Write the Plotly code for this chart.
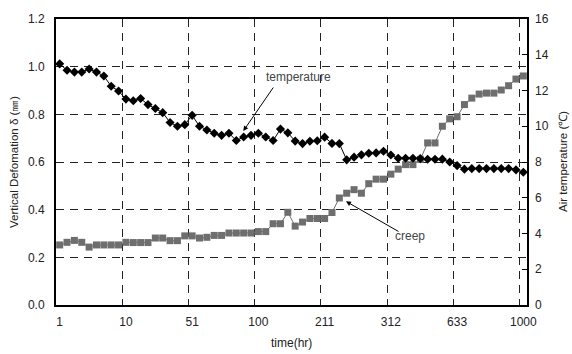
import plotly.graph_objects as go

# sample index (categories) and tick labels (time in hours)
sample_no = list(range(1, 65))
tick_positions = [1, 10, 19, 28, 37, 46, 55, 64]
tick_labels = ["1", "10", "51", "100", "211", "312", "633", "1000"]

# creep (vertical deformation, mm) - left axis
creep_mm = [0.252, 0.263, 0.271, 0.263, 0.243, 0.252, 0.252, 0.252, 0.252, 0.263,
            0.262, 0.262, 0.262, 0.281, 0.281, 0.270, 0.270, 0.290, 0.290, 0.281,
            0.284, 0.292, 0.292, 0.302, 0.302, 0.302, 0.302, 0.308, 0.308, 0.341,
            0.341, 0.389, 0.331, 0.348, 0.363, 0.363, 0.363, 0.388, 0.449, 0.469,
            0.484, 0.469, 0.509, 0.528, 0.528, 0.549, 0.570, 0.589, 0.589, 0.611,
            0.680, 0.680, 0.750, 0.781, 0.790, 0.841, 0.868, 0.885, 0.889, 0.889,
            0.902, 0.920, 0.948, 0.961]

# air temperature (deg C) - right axis
air_temp_c = [13.49, 13.13, 13.03, 13.03, 13.20, 13.03, 12.81, 12.24, 11.97, 11.52,
              11.43, 11.55, 11.21, 10.99, 10.76, 10.21, 10.00, 10.09, 10.61, 10.00,
              9.79, 9.61, 9.49, 9.61, 9.20, 9.40, 9.49, 9.61, 9.40, 9.20,
              9.84, 9.63, 9.17, 9.03, 9.16, 9.19, 9.39, 9.04, 9.03, 8.12,
              8.27, 8.40, 8.49, 8.51, 8.60, 8.39, 8.21, 8.21, 8.21, 8.19,
              8.15, 8.15, 8.16, 8.00, 7.80, 7.60, 7.63, 7.63, 7.63, 7.63,
              7.63, 7.63, 7.56, 7.43]

FONT = "Liberation Sans, Arial, sans-serif"
grid_bounds = [p - 0.5 for p in tick_positions[1:]]

fig = go.Figure()
fig.add_trace(go.Scatter(
    x=sample_no, y=creep_mm, mode="lines+markers", name="creep",
    line=dict(color="#6e6e6e", width=1),
    marker=dict(symbol="square", size=7, color="#6e6e6e"),
    yaxis="y"))
fig.add_trace(go.Scatter(
    x=sample_no, y=air_temp_c, mode="lines+markers", name="temperature",
    line=dict(color="black", width=1),
    marker=dict(symbol="diamond", size=7, color="black"),
    yaxis="y2"))

fig.update_layout(
    width=572, height=354,
    margin=dict(l=56, r=45, t=14, b=49),
    paper_bgcolor="white", plot_bgcolor="white",
    showlegend=False,
    font=dict(family=FONT, size=12, color="#222"),
    xaxis=dict(
        range=[0.5, 64.5], tickmode="array", tickvals=tick_positions,
        ticktext=tick_labels, showgrid=False, zeroline=False,
        showline=True, linecolor="black", linewidth=2, mirror=True,
        ticks="", ticklabelstandoff=5, tickfont=dict(size=12, color="#222"),
        minor=dict(tickmode="array", tickvals=grid_bounds, showgrid=True,
                   gridcolor="#222", gridwidth=1, griddash="8px,6px", ticks=""),
    ),
    yaxis=dict(
        range=[0, 1.2], dtick=0.2, tickformat=".1f",
        showgrid=True, gridcolor="#222", gridwidth=1, griddash="8px,6px",
        zeroline=False, showline=True, linecolor="black", linewidth=2,
        mirror=True, ticks="", ticklabelstandoff=7,
        tickfont=dict(size=12, color="#222"),
    ),
    yaxis2=dict(
        range=[0, 16], dtick=2, overlaying="y", side="right",
        showgrid=False, zeroline=False, showline=False,
        ticks="inside", ticklen=5, tickcolor="black", ticklabelstandoff=7,
        tickfont=dict(size=12, color="#222"),
    ),
    annotations=[
        dict(xref="paper", yref="paper", x=(14 - 56) / 471, y=0.5,
             xanchor="center", yanchor="middle",
             text="Vertical Defomation δ (㎜)", textangle=-90, showarrow=False,
             font=dict(size=11.5, color="#222")),
        dict(xref="paper", yref="paper", x=(563 - 56) / 471, y=0.5,
             xanchor="center", yanchor="middle",
             text="Air temperature (℃)", textangle=-90, showarrow=False,
             font=dict(size=11.5, color="#222")),
        dict(xref="paper", yref="paper", x=0.501, y=-0.134,
             xanchor="center", yanchor="middle",
             text="time(hr)", showarrow=False, font=dict(size=12, color="#222")),
        dict(xref="x", yref="y", x=33.5, y=0.956, text="temperature",
             xanchor="center", yanchor="middle",
             showarrow=False, font=dict(size=12, color="#444")),
        dict(xref="x", yref="y", x=48.6, y=0.288, text="creep",
             xanchor="center", yanchor="middle",
             showarrow=False, font=dict(size=12, color="#444")),
        dict(xref="x", yref="y", x=25.95, y=0.730, text="", showarrow=True,
             ax=31, ay=-45, arrowhead=2, arrowsize=1, arrowwidth=1,
             arrowcolor="black", standoff=0),
        dict(xref="x", yref="y", x=39.9, y=0.435, text="", showarrow=True,
             ax=54, ay=31, arrowhead=2, arrowsize=1, arrowwidth=1,
             arrowcolor="black", standoff=0),
    ],
)

fig.write_html("out.html")
